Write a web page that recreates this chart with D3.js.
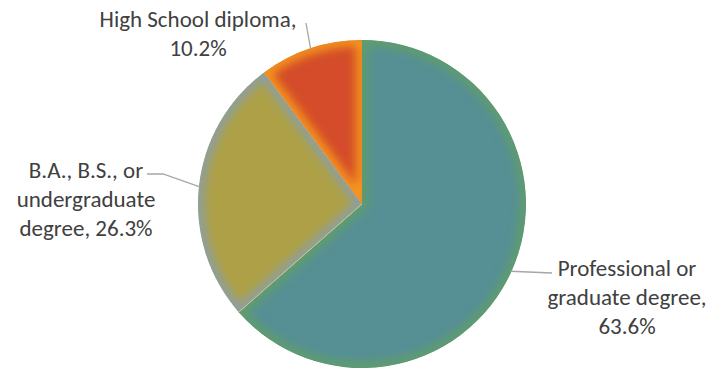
<!DOCTYPE html>
<html>
<head>
<meta charset="utf-8">
<script src="https://cdn.jsdelivr.net/npm/d3@7"></script>
<style>
  html, body { margin: 0; padding: 0; background: #fff; }
  svg { display: block; }
  text { font-family: Carlito, Lato, "Open Sans", sans-serif; fill: #404040; }
</style>
</head>
<body>
<svg id="chart"></svg>
<script>
var categories = ["Professional or graduate degree", "B.A., B.S., or undergraduate degree", "High School diploma"];
var values = [63.6, 26.3, 10.2];
var labelLines = [
  ["Professional or", "graduate degree,", "63.6%"],
  ["B.A., B.S., or", "undergraduate", "degree, 26.3%"],
  ["High School diploma,", "10.2%"]
];

var width = 714, height = 371;
var cx = 362, cy = 204, r = 164;
var fills = ["#568f94", "#ada046", "#d44c2a"];
var edges = ["#5f9d6c", "#8c9fa2", "#f5961a"];

// where each label block sits (center x, first line y) and where its leader starts
var labelPos = [
  { x: 627, y: 276, lx: 552, ly: 273, bend: null },
  { x: 86, y: 178, lx: 147, ly: 174, bend: [163, 174] },
  { x: 198, y: 27, lx: 306, ly: 23, bend: null }
];

var svg = d3.select("svg#chart").attr("width", width).attr("height", height);
var defs = svg.append("defs");
defs.append("filter").attr("id", "soft")
  .attr("x", "-20%").attr("y", "-20%").attr("width", "140%").attr("height", "140%")
  .append("feGaussianBlur").attr("stdDeviation", 5);

var pie = d3.pie().sort(null).value(function(d) { return d; });
var arcs = pie(values);
var arc = d3.arc().innerRadius(0).outerRadius(r);

var g = svg.append("g").attr("transform", "translate(" + cx + "," + cy + ")");

arcs.forEach(function(a, i) {
  defs.append("clipPath").attr("id", "clip" + i)
    .append("path").attr("d", arc(a));
});

var slices = g.selectAll("g.slice").data(arcs).enter()
  .append("g").attr("class", "slice")
  .attr("clip-path", function(d, i) { return "url(#clip" + i + ")"; });

slices.append("path")
  .attr("d", arc)
  .attr("fill", function(d, i) { return fills[i]; });

// soft glowing edge inside each slice
slices.append("path")
  .attr("d", arc)
  .attr("fill", "none")
  .attr("stroke", function(d, i) { return edges[i]; })
  .attr("stroke-width", 12)
  .attr("filter", "url(#soft)");

g.append("path")
  .attr("d", arc({ startAngle: arcs[0].endAngle, endAngle: arcs[0].endAngle + 0.0001 }))
  .attr("fill", "none")
  .attr("stroke", "#c9c28a")
  .attr("stroke-width", 0.8);

// leader lines
arcs.forEach(function(a, i) {
  var mid = (a.startAngle + a.endAngle) / 2;
  var ex = cx + Math.sin(mid) * (r - 1);
  var ey = cy - Math.cos(mid) * (r - 1);
  var p = labelPos[i];
  var pts = [[p.lx, p.ly]];
  if (p.bend) pts.push(p.bend);
  pts.push([ex, ey]);
  svg.append("polyline")
    .attr("points", pts.map(function(q) { return q.join(","); }).join(" "))
    .attr("fill", "none")
    .attr("stroke", "#a6a6a6")
    .attr("stroke-width", 1.3);
});

// labels
labelLines.forEach(function(lines, i) {
  var p = labelPos[i];
  var t = svg.append("text")
    .attr("text-anchor", "middle")
    .attr("font-size", 23);
  lines.forEach(function(s, j) {
    t.append("tspan").attr("x", p.x).attr("y", p.y + j * 29).text(s);
  });
});
</script>
</body>
</html>
